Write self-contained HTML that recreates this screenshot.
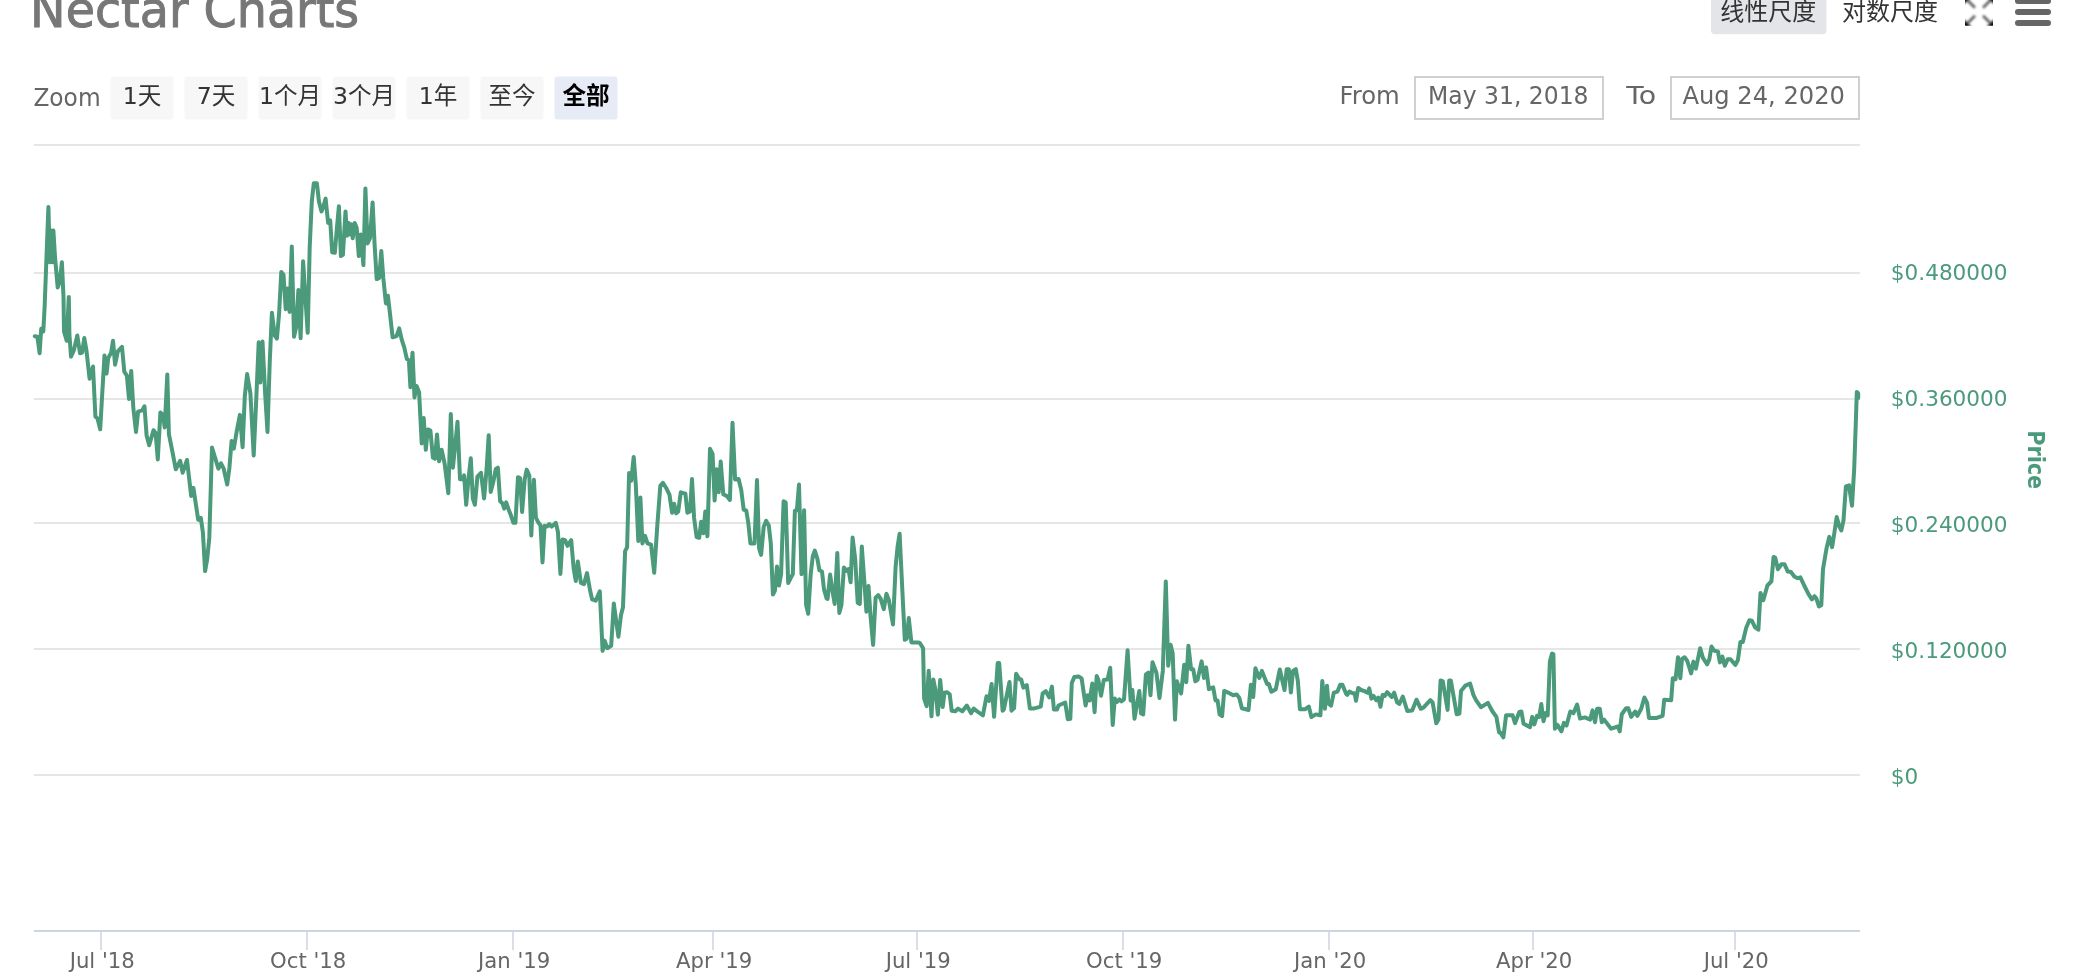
<!DOCTYPE html>
<html lang="zh-CN"><head><meta charset="utf-8"><title>Nectar Charts</title>
<style>
html,body{margin:0;padding:0;background:#fff;overflow:hidden}
svg{display:block;will-change:transform}
text{font-family:'DejaVu Sans','Liberation Sans',sans-serif}
.cjk{font-family:'DejaVu Sans','Liberation Sans','Noto Sans CJK SC',sans-serif}
</style></head><body>
<svg width="2084" height="978" viewBox="0 0 2084 978">
<rect width="2084" height="978" fill="#fff"/>

<text x="30.1" y="27.2" font-size="49" fill="#777" stroke="#777" stroke-width="1" textLength="329" lengthAdjust="spacingAndGlyphs">Nectar Charts</text>
<rect x="1711" y="-10" width="115.5" height="44.200" rx="4" fill="#e4e5e9"/>
<text class="cjk" x="1720.300" y="20.100" font-size="24" fill="#333">线性尺度</text>
<text class="cjk" x="1842" y="20.100" font-size="24" fill="#333">对数尺度</text>
<defs><filter id="bl" x="-30%" y="-30%" width="160%" height="160%"><feGaussianBlur stdDeviation="1.15"/></filter><clipPath id="fc"><rect x="1965" y="-2.200" width="28" height="28"/></clipPath></defs>
<g clip-path="url(#fc)"><g filter="url(#bl)"><path d="M1963.5 -3.7L1972.0 -3.7L1963.5 4.8ZM1963.5 27.3L1972.0 27.3L1963.5 18.8ZM1994.5 -3.7L1986.0 -3.7L1994.5 4.8ZM1994.5 27.3L1986.0 27.3L1994.5 18.8Z" fill="#000"/><path d="M1975.0 7.8L1967.5 0.3M1975.0 15.8L1967.5 23.3M1983.0 7.8L1990.5 0.3M1983.0 15.8L1990.5 23.3" stroke="#666" stroke-width="2.800" fill="none"/></g></g>
<g stroke="#666" stroke-width="6" stroke-linecap="round"><path d="M2018 0.900H2048M2018 11.900H2048M2018 23H2048"/></g>
<text x="33.4" y="105.8" font-size="24.300" fill="#666" textLength="67.2" lengthAdjust="spacingAndGlyphs">Zoom</text>
<rect x="110.5" y="76.5" width="63" height="43" rx="3" fill="#f7f7f7"/>
<text class="cjk" x="142" y="103.600" font-size="23.600" text-anchor="middle" fill="#333">1天</text>
<rect x="184.5" y="76.5" width="63" height="43" rx="3" fill="#f7f7f7"/>
<text class="cjk" x="216" y="103.600" font-size="23.600" text-anchor="middle" fill="#333">7天</text>
<rect x="258.5" y="76.5" width="63" height="43" rx="3" fill="#f7f7f7"/>
<text class="cjk" x="290" y="103.600" font-size="23.600" text-anchor="middle" fill="#333">1个月</text>
<rect x="332.5" y="76.5" width="63" height="43" rx="3" fill="#f7f7f7"/>
<text class="cjk" x="364" y="103.600" font-size="23.600" text-anchor="middle" fill="#333">3个月</text>
<rect x="406.5" y="76.5" width="63" height="43" rx="3" fill="#f7f7f7"/>
<text class="cjk" x="438" y="103.600" font-size="23.600" text-anchor="middle" fill="#333">1年</text>
<rect x="480.5" y="76.5" width="63" height="43" rx="3" fill="#f7f7f7"/>
<text class="cjk" x="512" y="103.600" font-size="23.600" text-anchor="middle" fill="#333">至今</text>
<rect x="554.5" y="76.5" width="63" height="43" rx="3" fill="#e6ebf5"/>
<text class="cjk" x="586" y="103.600" font-size="23.600" text-anchor="middle" font-weight="bold" fill="#000">全部</text>
<text x="1339.600" y="104" font-size="24.300" fill="#666">From</text>
<rect x="1415" y="77" width="188" height="42" fill="#fff" stroke="#c8c8c8" stroke-width="1.700"/>
<text x="1508.300" y="103.800" font-size="24.300" fill="#666" text-anchor="middle" textLength="160.5" lengthAdjust="spacingAndGlyphs">May 31, 2018</text>
<text x="1626.200" y="104" font-size="24.300" fill="#666" textLength="30" lengthAdjust="spacingAndGlyphs">To</text>
<rect x="1671" y="77" width="188" height="42" fill="#fff" stroke="#c8c8c8" stroke-width="1.700"/>
<text x="1763.700" y="103.800" font-size="24.300" fill="#666" text-anchor="middle" textLength="162.5" lengthAdjust="spacingAndGlyphs">Aug 24, 2020</text>
<g stroke="#e6e6e6" stroke-width="2">
<path d="M34 145H1860"/>
<path d="M34 273H1860"/>
<path d="M34 399H1860"/>
<path d="M34 523H1860"/>
<path d="M34 649H1860"/>
<path d="M34 775H1860"/>
</g>
<g stroke="#ced5e2" stroke-width="2"><path d="M34 931H1860"/></g>
<g stroke="#d3d9e6" stroke-width="1.700">
<path d="M101 932V950"/>
<path d="M307 932V950"/>
<path d="M513 932V950"/>
<path d="M713 932V950"/>
<path d="M917 932V950"/>
<path d="M1123 932V950"/>
<path d="M1329 932V950"/>
<path d="M1533 932V950"/>
<path d="M1735 932V950"/>
</g>
<text transform="translate(102.2 967.700) scale(0.964 1)" font-size="22" fill="#666" text-anchor="middle">Jul '18</text>
<text transform="translate(308.2 967.700) scale(0.964 1)" font-size="22" fill="#666" text-anchor="middle">Oct '18</text>
<text transform="translate(514.2 967.700) scale(0.964 1)" font-size="22" fill="#666" text-anchor="middle">Jan '19</text>
<text transform="translate(714.2 967.700) scale(0.964 1)" font-size="22" fill="#666" text-anchor="middle">Apr '19</text>
<text transform="translate(918.2 967.700) scale(0.964 1)" font-size="22" fill="#666" text-anchor="middle">Jul '19</text>
<text transform="translate(1124.2 967.700) scale(0.964 1)" font-size="22" fill="#666" text-anchor="middle">Oct '19</text>
<text transform="translate(1330.2 967.700) scale(0.964 1)" font-size="22" fill="#666" text-anchor="middle">Jan '20</text>
<text transform="translate(1534.2 967.700) scale(0.964 1)" font-size="22" fill="#666" text-anchor="middle">Apr '20</text>
<text transform="translate(1736.2 967.700) scale(0.964 1)" font-size="22" fill="#666" text-anchor="middle">Jul '20</text>
<text x="1890.8" y="279.5" font-size="21.6" fill="#4a9a7b">$0.480000</text>
<text x="1890.8" y="405.5" font-size="21.6" fill="#4a9a7b">$0.360000</text>
<text x="1890.8" y="531.5" font-size="21.6" fill="#4a9a7b">$0.240000</text>
<text x="1890.8" y="657.5" font-size="21.6" fill="#4a9a7b">$0.120000</text>
<text x="1890.8" y="783.5" font-size="21.6" fill="#4a9a7b">$0</text>
<text transform="translate(2027.5 430.2) rotate(90)" font-family="'Liberation Sans',sans-serif" font-weight="bold" font-size="23.300" textLength="59" lengthAdjust="spacingAndGlyphs" fill="#4a9a7b">Price</text>
<path d="M34.8 336.2 L37.4 336.8 L39.6 353.3 L41.2 328.8 L43.3 331.5 L44.6 307.5 L46.5 257.0 L48.4 207.0 L49.9 262.3 L51.3 230.5 L52.3 262.3 L53.4 230.5 L55.0 257.0 L57.7 287.5 L59.8 280.9 L61.9 262.3 L63.5 296.9 L64.0 331.5 L66.7 340.8 L68.8 296.9 L69.4 334.1 L71.0 356.7 L73.9 350.1 L77.3 335.5 L80.0 353.3 L82.1 352.7 L84.3 338.1 L86.4 350.1 L89.6 378.8 L93.0 366.5 L95.4 416.5 L97.6 418.7 L100.2 429.3 L102.3 392.5 L104.5 355.4 L106.6 373.5 L108.2 358.1 L111.1 352.7 L113.0 340.8 L115.1 364.7 L117.8 351.4 L122.0 346.9 L124.3 371.7 L126.9 375.7 L129.0 399.1 L131.2 370.9 L133.3 407.6 L136.0 432.1 L138.1 411.6 L142.3 410.3 L144.5 406.3 L146.6 435.5 L149.2 445.3 L153.5 430.2 L155.6 432.9 L157.8 459.4 L160.4 412.4 L163.1 415.6 L164.7 427.5 L167.3 374.4 L168.9 434.2 L172.1 450.1 L175.8 469.3 L180.1 460.8 L182.7 472.7 L187.0 460.0 L191.2 495.9 L193.4 487.9 L198.2 519.8 L200.8 517.9 L202.9 532.5 L205.1 571.1 L207.2 559.1 L209.3 537.9 L212.0 447.5 L215.2 458.1 L218.4 468.7 L221.0 463.4 L223.7 468.7 L227.2 484.5 L229.4 467.9 L231.6 440.9 L233.8 448.6 L236.6 432.0 L239.9 414.9 L242.6 447.2 L244.8 396.2 L247.1 374.1 L250.4 393.4 L253.7 455.5 L256.4 396.2 L258.7 342.3 L260.3 382.4 L262.5 341.5 L265.3 396.2 L267.5 432.0 L269.7 363.0 L271.9 312.8 L274.7 335.4 L276.9 338.7 L279.1 313.3 L281.3 271.9 L283.5 274.7 L285.7 309.2 L287.4 288.5 L289.6 311.9 L291.8 246.5 L294.0 336.8 L296.2 327.1 L298.4 289.9 L300.6 338.2 L303.1 261.2 L305.1 293.2 L307.7 332.8 L309.7 247.2 L311.8 201.2 L313.8 183.3 L316.9 183.3 L318.9 201.2 L321.5 211.4 L323.5 206.3 L325.6 198.6 L328.1 222.9 L330.2 220.3 L332.2 252.3 L334.8 252.8 L336.8 229.3 L338.9 206.3 L340.9 256.1 L342.9 254.9 L345.5 211.4 L347.0 235.7 L348.6 222.9 L350.1 234.4 L351.1 224.2 L352.7 238.2 L354.7 222.9 L356.7 228.0 L358.8 256.1 L360.8 234.4 L363.4 265.1 L365.4 188.4 L367.5 243.4 L370.0 238.2 L372.6 202.5 L374.6 244.6 L376.7 279.1 L379.2 277.9 L381.3 251.0 L383.3 277.9 L385.9 303.4 L387.9 295.8 L390.0 313.7 L392.6 337.3 L396.6 336.1 L399.2 328.4 L401.8 339.9 L404.3 347.6 L406.9 359.1 L408.9 360.3 L410.4 387.2 L412.5 352.7 L414.5 397.4 L416.6 385.9 L419.1 392.3 L421.7 443.4 L423.7 417.9 L425.8 449.8 L427.8 429.4 L430.4 430.6 L432.9 457.5 L435.0 458.8 L437.0 434.5 L439.1 461.3 L441.6 449.8 L444.7 463.9 L448.3 493.3 L450.8 414.0 L452.9 467.7 L455.4 443.4 L457.5 421.7 L460.0 479.2 L462.6 479.2 L464.1 475.4 L466.2 504.8 L468.2 481.8 L470.8 458.3 L472.8 498.4 L474.9 504.8 L477.4 476.7 L481.0 472.8 L484.1 498.4 L486.6 469.0 L488.7 435.2 L490.7 492.0 L493.3 481.8 L495.8 469.0 L497.9 467.7 L500.1 501.0 L502.7 503.6 L504.2 508.7 L506.2 502.3 L508.3 508.7 L510.8 515.1 L513.4 522.8 L515.4 522.8 L518.0 477.2 L520.1 478.0 L522.1 512.0 L524.7 479.3 L526.7 469.6 L529.3 475.5 L531.3 535.5 L533.9 479.8 L535.9 517.6 L538.5 522.8 L540.5 525.3 L542.5 562.4 L544.6 525.8 L547.1 526.6 L549.2 524.0 L551.7 526.6 L555.8 522.8 L557.9 531.7 L560.4 573.9 L562.5 539.4 L565.0 540.1 L567.6 545.8 L571.2 540.1 L573.7 568.8 L575.8 581.0 L577.8 561.6 L580.9 582.8 L584.0 584.1 L587.0 573.1 L590.1 590.5 L592.1 599.4 L595.7 600.7 L599.8 591.3 L602.6 650.8 L604.6 640.6 L607.2 648.2 L611.2 645.7 L613.8 603.5 L616.4 622.7 L618.4 636.7 L621.0 615.0 L623.0 607.3 L625.1 551.1 L627.1 547.3 L629.1 473.1 L631.2 480.8 L633.7 457.0 L635.8 484.6 L638.3 540.9 L640.4 497.4 L642.4 543.4 L645.0 535.8 L647.5 543.4 L651.1 544.7 L654.2 572.8 L657.3 525.5 L660.3 485.9 L662.9 482.8 L666.5 488.5 L669.5 494.9 L672.1 512.8 L674.1 503.8 L676.2 513.3 L678.2 511.5 L680.8 492.3 L685.4 493.6 L687.4 512.8 L690.0 511.5 L692.0 479.0 L694.1 517.9 L696.6 537.0 L699.2 537.8 L701.2 521.7 L703.3 533.2 L705.3 511.5 L707.4 536.3 L710.0 448.8 L712.6 454.0 L714.6 500.5 L716.6 469.3 L718.7 492.3 L720.7 461.6 L723.3 494.3 L726.9 496.1 L729.9 500.0 L732.5 422.8 L735.1 479.5 L738.6 479.0 L741.2 489.7 L743.7 509.7 L746.3 510.7 L748.3 523.0 L750.4 543.4 L754.5 543.4 L757.0 480.0 L759.1 548.5 L761.1 554.9 L763.7 526.8 L766.2 520.9 L768.8 525.5 L770.8 543.4 L772.9 594.5 L774.9 590.7 L777.0 566.4 L779.0 585.6 L781.1 574.1 L783.6 501.2 L785.7 502.5 L788.2 583.0 L790.8 577.9 L792.8 574.1 L794.9 510.7 L796.9 510.2 L799.0 484.6 L801.5 574.1 L804.1 510.2 L806.1 604.8 L808.2 613.7 L810.7 574.1 L812.8 556.2 L814.8 550.6 L817.4 558.8 L819.4 570.3 L822.0 571.5 L824.0 589.4 L826.6 598.4 L827.6 598.9 L830.1 574.6 L832.7 592.5 L834.7 604.0 L837.3 552.9 L839.3 613.0 L841.4 605.3 L843.9 567.5 L846.5 570.8 L848.5 569.0 L850.6 582.3 L852.6 537.6 L855.2 559.3 L857.7 602.7 L859.8 604.0 L861.8 546.5 L864.4 582.3 L866.4 611.7 L868.5 586.1 L870.5 615.5 L873.1 644.9 L875.6 597.6 L878.2 595.1 L880.7 598.9 L883.8 609.1 L886.4 593.8 L888.9 600.2 L893.0 624.5 L895.6 567.0 L897.6 546.5 L899.6 533.7 L902.2 587.4 L904.8 639.8 L906.8 638.5 L908.8 618.1 L911.4 642.4 L914.5 642.4 L918.6 642.4 L920.0 643.2 L923.1 648.3 L924.1 698.4 L926.6 706.1 L928.7 670.8 L931.5 716.3 L933.3 679.5 L935.3 689.2 L937.9 714.7 L940.2 680.0 L942.7 707.1 L944.5 692.8 L947.1 692.2 L949.7 694.3 L951.7 710.7 L955.3 711.2 L958.0 708.6 L962.4 711.2 L966.8 705.5 L971.1 713.2 L973.7 708.6 L978.3 712.2 L982.9 715.3 L986.5 696.3 L989.0 700.9 L991.6 684.1 L994.1 716.8 L997.7 663.1 L999.2 663.1 L1002.6 710.7 L1003.8 709.6 L1009.5 682.0 L1011.5 710.7 L1014.1 708.1 L1016.1 673.8 L1019.7 679.5 L1021.2 679.5 L1023.3 687.6 L1026.8 685.1 L1029.9 708.6 L1033.5 708.6 L1040.7 706.6 L1042.7 693.3 L1045.8 691.2 L1049.3 697.4 L1051.9 686.6 L1053.9 709.6 L1057.0 709.6 L1058.5 705.5 L1065.2 702.5 L1067.8 719.3 L1070.3 718.8 L1071.8 683.0 L1074.4 676.9 L1078.5 676.4 L1081.6 678.4 L1085.6 705.5 L1087.7 695.3 L1089.7 700.4 L1092.3 683.6 L1094.6 712.2 L1096.7 675.9 L1098.4 680.0 L1101.0 695.8 L1103.8 680.0 L1107.6 679.5 L1110.2 667.7 L1112.7 725.0 L1114.8 698.4 L1116.8 702.0 L1119.4 699.4 L1121.4 701.4 L1124.0 699.4 L1127.6 650.3 L1130.6 700.5 L1132.4 690.0 L1134.5 718.7 L1139.3 690.9 L1141.1 713.5 L1143.2 714.4 L1145.9 674.4 L1148.4 672.7 L1150.5 695.3 L1152.5 662.2 L1156.4 672.7 L1159.5 697.9 L1162.8 670.9 L1165.8 581.4 L1168.2 665.7 L1170.6 644.8 L1172.7 653.5 L1175.0 719.6 L1176.9 681.3 L1181.1 693.5 L1184.2 664.8 L1186.3 682.2 L1188.4 645.7 L1191.1 669.2 L1193.2 669.2 L1195.3 681.3 L1197.6 679.6 L1201.6 661.4 L1204.0 677.9 L1206.1 667.4 L1208.9 689.2 L1213.2 687.4 L1215.5 700.5 L1217.6 700.5 L1219.6 714.4 L1222.1 716.1 L1224.2 690.9 L1228.0 692.6 L1233.2 695.3 L1236.7 694.4 L1239.3 697.9 L1241.9 708.3 L1248.5 710.0 L1250.9 684.8 L1253.2 697.0 L1255.4 668.3 L1259.3 677.9 L1261.9 670.9 L1267.1 684.0 L1268.8 684.0 L1271.4 691.8 L1275.8 689.2 L1279.8 669.5 L1284.5 690.0 L1286.7 669.2 L1288.8 669.2 L1290.9 692.6 L1293.0 670.9 L1295.8 669.2 L1297.9 681.3 L1299.9 709.2 L1305.3 709.2 L1308.8 706.5 L1311.4 717.0 L1315.8 714.4 L1320.4 715.3 L1322.3 680.9 L1324.9 708.8 L1327.0 685.7 L1328.4 703.4 L1331.1 705.6 L1333.8 692.7 L1337.5 691.6 L1340.2 684.7 L1342.4 684.7 L1346.1 693.8 L1347.2 694.9 L1349.4 691.6 L1352.6 693.2 L1354.7 693.2 L1356.0 700.8 L1358.2 687.9 L1361.2 690.0 L1364.4 691.1 L1367.6 692.7 L1369.2 688.4 L1371.4 698.6 L1373.5 695.9 L1376.2 700.2 L1378.3 697.5 L1380.5 706.7 L1382.6 694.9 L1384.8 695.9 L1387.1 692.2 L1391.8 697.0 L1394.2 692.7 L1397.1 702.4 L1399.3 704.0 L1402.8 696.5 L1407.3 711.0 L1412.2 710.4 L1416.5 699.7 L1420.8 708.8 L1423.4 707.7 L1430.4 700.2 L1432.6 702.4 L1436.3 723.3 L1438.5 719.6 L1440.6 680.4 L1442.8 681.4 L1447.6 709.9 L1449.2 680.4 L1450.8 680.4 L1456.7 714.2 L1459.4 713.6 L1461.0 691.1 L1465.3 685.7 L1470.1 683.6 L1473.4 694.9 L1476.0 700.2 L1480.9 707.2 L1487.9 702.9 L1492.2 711.0 L1496.4 716.9 L1499.1 732.4 L1500.2 732.4 L1503.4 737.3 L1506.1 715.3 L1512.6 715.3 L1515.0 723.3 L1519.3 712.0 L1521.4 711.5 L1523.6 723.8 L1530.0 727.1 L1532.2 716.9 L1534.3 724.4 L1537.0 715.8 L1539.2 716.9 L1541.3 704.0 L1543.5 721.2 L1545.6 713.1 L1547.7 715.3 L1549.9 661.6 L1552.0 653.5 L1553.4 654.1 L1554.9 728.7 L1557.4 724.9 L1561.4 731.4 L1563.9 722.8 L1566.5 725.5 L1570.3 711.5 L1573.5 713.1 L1577.1 704.5 L1580.0 718.5 L1584.8 717.4 L1590.2 719.6 L1592.5 710.4 L1595.0 722.2 L1597.1 708.8 L1599.8 708.8 L1601.8 722.2 L1604.1 719.6 L1611.1 728.7 L1618.1 726.5 L1619.7 731.4 L1621.8 714.2 L1626.1 708.3 L1628.3 708.3 L1631.2 716.9 L1635.2 711.5 L1637.4 715.8 L1641.2 708.8 L1644.4 697.5 L1647.1 702.9 L1649.0 717.9 L1656.7 717.9 L1662.6 715.8 L1664.2 699.7 L1671.2 700.2 L1672.8 678.2 L1675.5 679.3 L1678.0 657.3 L1680.3 678.2 L1682.0 658.9 L1684.6 657.3 L1687.3 661.0 L1691.1 673.4 L1693.4 661.6 L1695.9 668.6 L1700.2 648.2 L1702.9 657.8 L1707.2 664.3 L1709.3 659.4 L1711.5 646.5 L1714.2 650.8 L1717.9 651.4 L1719.9 662.4 L1722.4 656.7 L1724.8 665.7 L1727.8 659.2 L1730.5 659.2 L1735.4 664.9 L1737.9 660.0 L1740.4 642.0 L1742.8 642.0 L1746.1 628.1 L1749.4 620.2 L1751.8 620.7 L1755.1 627.3 L1758.4 629.7 L1760.5 592.9 L1763.3 600.3 L1767.4 585.5 L1771.4 581.4 L1773.6 556.9 L1775.2 557.7 L1778.0 569.2 L1781.3 564.3 L1784.5 564.3 L1787.8 571.6 L1791.1 572.1 L1794.3 576.5 L1797.6 578.2 L1800.4 577.4 L1804.2 585.5 L1808.3 593.7 L1811.9 599.4 L1814.5 596.2 L1816.4 598.6 L1818.9 606.5 L1821.3 605.2 L1823.0 569.2 L1826.6 548.0 L1829.3 536.9 L1832.1 547.1 L1834.3 533.3 L1836.7 517.1 L1839.1 525.9 L1841.3 530.5 L1843.5 520.4 L1845.9 486.3 L1849.0 485.4 L1852.0 505.7 L1854.2 468.8 L1856.0 417.3 L1856.8 391.9 L1858.2 393.4 L1858.2 398.0" fill="none" stroke="#4a9a7b" stroke-width="4" stroke-linejoin="round" stroke-linecap="round"/>
</svg></body></html>
